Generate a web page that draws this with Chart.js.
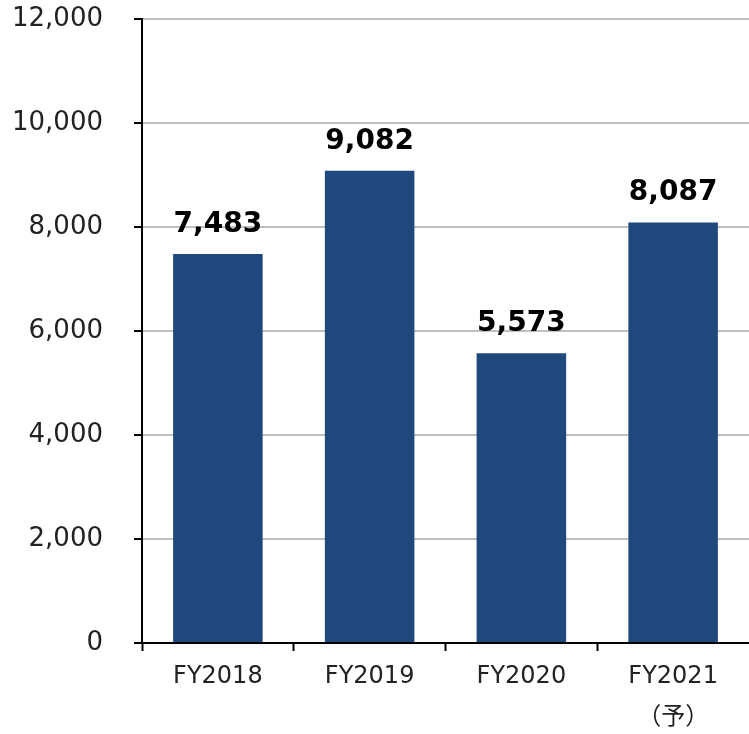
<!DOCTYPE html>
<html><head><meta charset="utf-8">
<script src="https://cdn.jsdelivr.net/npm/chart.js"></script>
<style>html,body{margin:0;padding:0;background:#fff}#wrap{width:749px;height:734px;position:relative}</style>
</head><body><div id="wrap"><canvas id="c"></canvas></div>
<script>
const categories = [["FY2018"], ["FY2019"], ["FY2020"], ["FY2021", "（予）"]];
const values = [7483, 9082, 5573, 8087];
const yTickValues = [0, 2000, 4000, 6000, 8000, 10000, 12000];

const FONT = '"DejaVu Sans", "Noto Sans CJK JP", sans-serif';
const fmt = v => Number(v).toLocaleString('en-US');

const valueLabels = {
  id: 'valueLabels',
  afterDatasetsDraw(chart) {
    const ctx = chart.ctx;
    const meta = chart.getDatasetMeta(0);
    ctx.save();
    ctx.font = 'bold 28px ' + FONT;
    ctx.fillStyle = '#000';
    ctx.textAlign = 'center';
    ctx.textBaseline = 'alphabetic';
    meta.data.forEach((bar, i) => {
      ctx.fillText(fmt(values[i]), bar.x, bar.y - 22);
    });
    ctx.restore();
  }
};

new Chart(document.getElementById('c'), {
  type: 'bar',
  data: {
    labels: categories,
    datasets: [{
      data: values,
      backgroundColor: '#1F497D',
      borderWidth: 0,
      barPercentage: 0.59,
      categoryPercentage: 1.0
    }]
  },
  options: {
    responsive: true,
    maintainAspectRatio: false,
    animation: false,
    layout: { padding: { top: 19, right: 0, bottom: 0, left: 0 } },
    plugins: { legend: { display: false }, tooltip: { enabled: false } },
    scales: {
      x: {
        offset: true,
        grid: {
          display: true, drawOnChartArea: false, offset: true, tickLength: 8, tickWidth: 2,
          tickColor: c => (c.type === 'tick' ? '#000' : 'rgba(0,0,0,0)')
        },
        border: { display: true, color: '#000', width: 2 },
        ticks: { color: '#222', font: { family: FONT, size: 24, lineHeight: 41 / 24 }, padding: 5, maxRotation: 0, autoSkip: false },
        afterFit(scale) { scale.height = 91; scale.paddingLeft = 0; scale.paddingRight = 0; }
      },
      y: {
        min: 0, max: 12000,
        afterBuildTicks(scale) { scale.ticks = yTickValues.map(v => ({ value: v })); },
        ticks: { color: '#222', font: { family: FONT, size: 26 }, padding: 31, callback: v => fmt(v) },
        grid: { color: '#BFBFBF', lineWidth: 2, tickLength: 8, tickColor: '#000', tickWidth: 2 },
        border: { color: '#000', width: 2 },
        afterFit(scale) { scale.width = 142; scale.paddingTop = 0; scale.paddingBottom = 0; }
      }
    }
  },
  plugins: [valueLabels]
});
</script>
</body></html>
